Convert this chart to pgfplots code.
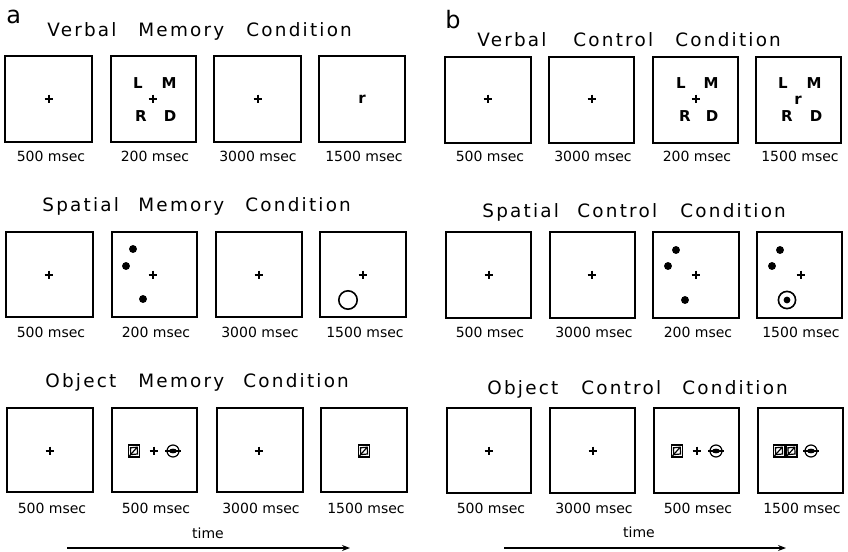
\documentclass[border=0pt]{standalone}
\usepackage{pgfplots}
\pgfplotsset{compat=1.18}
\usepackage{fontspec}
\setmainfont{DejaVu Sans}
\newfontfamily\titlef[LetterSpace=12]{DejaVu Sans}
\usetikzlibrary{arrows.meta}

% square glyph (y up in mark coordinates)
\pgfdeclareplotmark{sqg}{%
  \pgfsetlinewidth{0.6pt}%
  \pgfpathrectangle{\pgfpoint{-2.75pt}{-3pt}}{\pgfpoint{5.5pt}{6pt}}%
  \pgfusepathqstroke
  \pgfpathmoveto{\pgfpoint{-1.6pt}{-1.8pt}}%
  \pgfpathlineto{\pgfpoint{1.8pt}{-1.5pt}}%
  \pgfpathlineto{\pgfpoint{1.6pt}{1.9pt}}%
  \pgfpathlineto{\pgfpoint{-1.8pt}{1.6pt}}%
  \pgfpathclose
  \pgfusepathqstroke
  \pgfpathmoveto{\pgfpoint{-2.75pt}{-3pt}}%
  \pgfpathlineto{\pgfpoint{1.6pt}{1.9pt}}%
  \pgfusepathqstroke
}
% circle glyph with bar and oval
\pgfdeclareplotmark{cg}{%
  \pgfsetlinewidth{0.6pt}%
  \pgfpathcircle{\pgfpointorigin}{3pt}%
  \pgfusepathqstroke
  \pgfpathmoveto{\pgfpoint{-3.9pt}{0pt}}%
  \pgfpathlineto{\pgfpoint{3.9pt}{0pt}}%
  \pgfusepathqstroke
  \pgfsetlinewidth{0.7pt}%
  \pgfpathellipse{\pgfpointorigin}{\pgfpoint{1.6pt}{0pt}}{\pgfpoint{0pt}{0.8pt}}%
  \pgfusepathqstroke
}
% ring with dot
\pgfdeclareplotmark{ringdot}{%
  \pgfsetlinewidth{0.8pt}%
  \pgfpathcircle{\pgfpointorigin}{4.3pt}%
  \pgfusepathqstroke
  \pgfpathcircle{\pgfpointorigin}{1.7pt}%
  \pgfusepathqfill
}

\newcommand{\bx}[4]{\addplot[black, line width=0.9pt, line join=miter] coordinates {(#1,#3) (#2,#3) (#2,#4) (#1,#4)} -- cycle;}
\newcommand{\ttl}[3]{\node[anchor=base west, inner sep=0pt, font=\fontsize{9.2}{10}\titlef] at (axis cs:#1,#2) {#3};}
\newcommand{\lbl}[3]{\node[anchor=base, inner sep=0pt, font=\fontsize{7}{8}\selectfont] at (axis cs:#1,#2) {#3 msec};}
\newcommand{\blt}[3]{\node[anchor=base, inner sep=0pt, font=\fontsize{7.5}{8}\bfseries] at (axis cs:#1,#2) {#3};}

\begin{document}
\begin{tikzpicture}
\begin{axis}[
  scale only axis, width=424pt, height=276pt,
  xmin=0, xmax=848, ymin=0, ymax=552, y dir=reverse,
  axis lines=none, clip=false,
]
\addplot[draw=none, forget plot] coordinates {(0,0) (848,552)};

% ---------- panel letters
\node[anchor=base west, inner sep=0pt, font=\fontsize{12}{13}\selectfont] at (axis cs:6,23) {a};
\node[anchor=base west, inner sep=0pt, font=\fontsize{12}{13}\selectfont] at (axis cs:445,28) {b};

% ---------- titles
\ttl{47}{36}{Verbal}\ttl{138}{36}{Memory}\ttl{246}{36}{Condition}
\ttl{477}{46}{Verbal}\ttl{573}{46}{Control}\ttl{675}{46}{Condition}
\ttl{42}{211}{Spatial}\ttl{138}{211}{Memory}\ttl{245}{211}{Condition}
\ttl{482}{217}{Spatial}\ttl{577}{217}{Control}\ttl{680}{217}{Condition}
\ttl{45}{387}{Object}\ttl{138}{387}{Memory}\ttl{243}{387}{Condition}
\ttl{487}{394}{Object}\ttl{581}{394}{Control}\ttl{682}{394}{Condition}

% ---------- boxes row 1
\bx{5}{92}{56}{142}\bx{111}{196}{56}{142}\bx{214}{301}{56}{142}\bx{319}{405}{56}{142}
\bx{445}{531}{57}{143}\bx{549}{634}{57}{143}\bx{653}{738}{57}{143}\bx{756}{841}{57}{143}
% ---------- boxes row 2
\bx{6}{93}{232}{317}\bx{112}{197}{232}{317}\bx{216}{302}{232}{317}\bx{320}{406}{232}{317}
\bx{446}{531}{232}{318}\bx{550}{635}{232}{318}\bx{653}{739}{232}{318}\bx{757}{842}{232}{318}
% ---------- boxes row 3
\bx{7}{93}{408}{492}\bx{112}{197}{408}{492}\bx{217}{303}{408}{492}\bx{321}{407}{408}{492}
\bx{447}{531}{408}{493}\bx{550}{635}{408}{493}\bx{654}{739}{408}{493}\bx{758}{843}{408}{493}

% ---------- fixation crosses
\addplot[only marks, mark=+, mark size=2.2pt, mark options={line width=0.65pt}] coordinates {
 (49,99) (153,99) (258,99)
 (488,99) (592,99) (696,99)
 (49,275) (153,275) (259,275) (363,275)
 (489,275) (592,275) (696,275) (801,275)
 (50,451) (154,451) (259,451)
 (489,451) (593,451) (697,451)
};

% ---------- verbal letters
\blt{138}{88.5}{L}\blt{169}{88.5}{M}\blt{141}{121.5}{R}\blt{170}{121.5}{D}
\blt{362}{103.5}{r}
\blt{681}{88.5}{L}\blt{711}{88.5}{M}\blt{685}{121.5}{R}\blt{712}{121.5}{D}
\blt{783}{88.5}{L}\blt{814}{88.5}{M}\blt{798}{104}{r}\blt{787}{121.5}{R}\blt{816}{121.5}{D}

% ---------- spatial dots
\addplot[only marks, mark=*, mark size=1.75pt, black] coordinates {
 (133,249) (126,266) (143,299)
 (676,250) (668,266) (685,300)
 (780,250) (772,266)
};
\addplot[only marks, mark=o, mark size=4.6pt, mark options={line width=0.8pt}] coordinates {(348,300)};
\addplot[only marks, mark=ringdot] coordinates {(787,300)};

% ---------- object glyphs
\addplot[only marks, mark=sqg] coordinates {(134,451) (364,451) (677,451) (779,451) (791.5,451)};
\addplot[only marks, mark=cg] coordinates {(173,451) (716,451) (811,451)};

% ---------- duration labels
\lbl{51}{161}{500}\lbl{155}{161}{200}\lbl{258}{161}{3000}\lbl{364}{161}{1500}
\lbl{490}{161}{500}\lbl{593}{161}{3000}\lbl{697}{161}{200}\lbl{800}{161}{1500}
\lbl{51}{337}{500}\lbl{156}{337}{200}\lbl{260}{337}{3000}\lbl{365}{337}{1500}
\lbl{490}{337}{500}\lbl{594}{337}{3000}\lbl{698}{337}{200}\lbl{801}{337}{1500}
\lbl{52}{513}{500}\lbl{156}{513}{500}\lbl{261}{513}{3000}\lbl{366}{513}{1500}
\lbl{491}{513}{500}\lbl{594}{513}{3000}\lbl{698}{513}{500}\lbl{802}{513}{1500}

% ---------- time arrows
\node[anchor=base, inner sep=0pt, font=\fontsize{7}{8}\selectfont] at (axis cs:208,538) {time};
\node[anchor=base, inner sep=0pt, font=\fontsize{7}{8}\selectfont] at (axis cs:639,537) {time};
\addplot[black, line width=0.6pt, -{Stealth[length=4pt,width=3pt]}] coordinates {(67,548) (350,548)};
\addplot[black, line width=0.6pt, -{Stealth[length=4pt,width=3pt]}] coordinates {(504,548) (786,548)};
\end{axis}
\end{tikzpicture}
\end{document}
